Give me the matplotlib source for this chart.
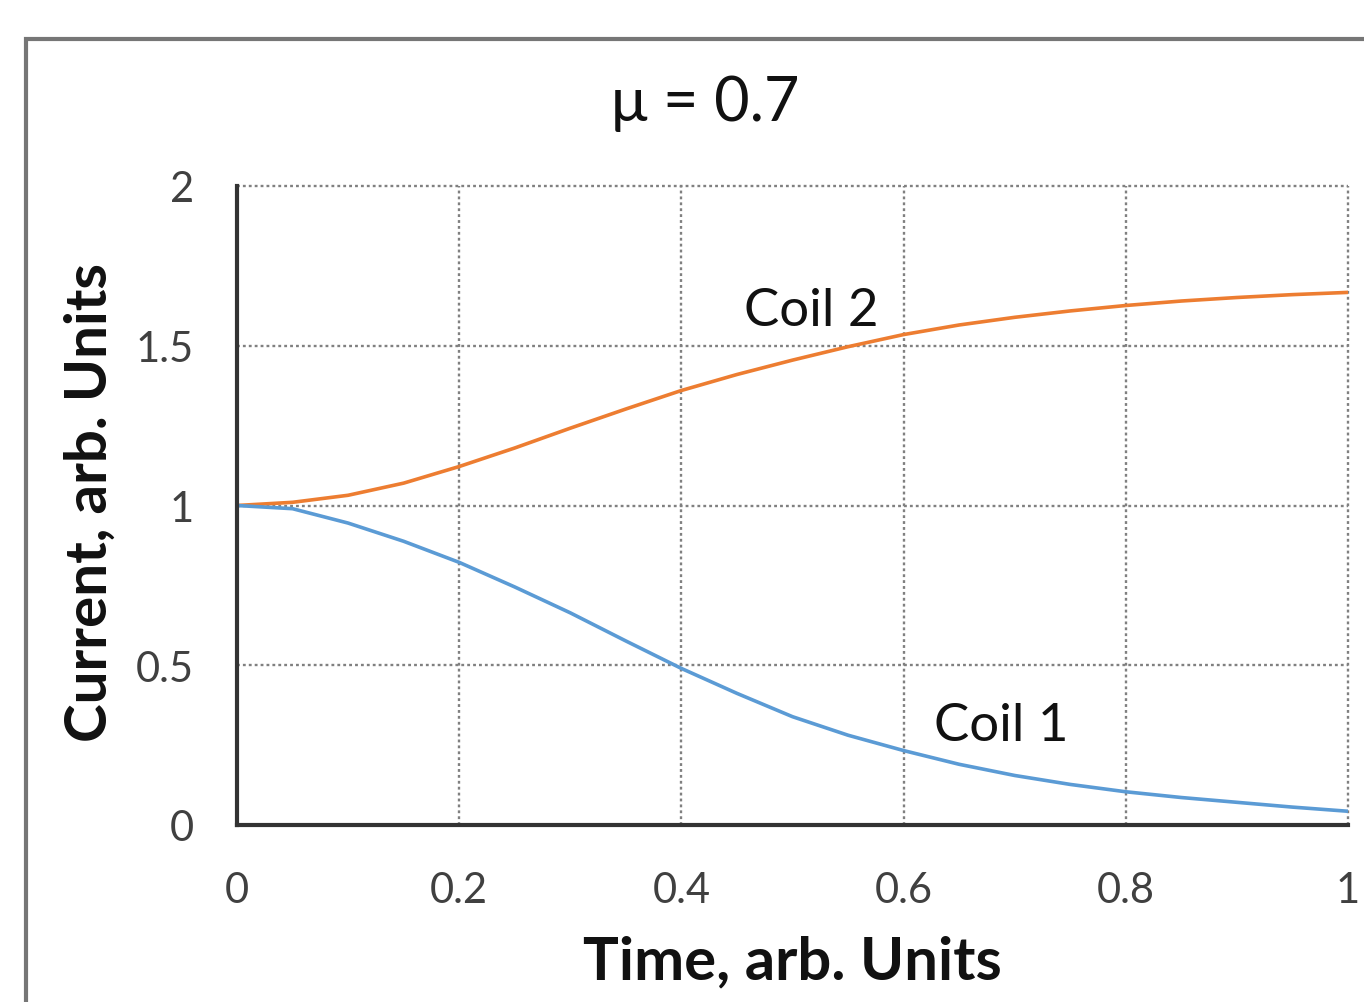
import matplotlib.pyplot as plt
from matplotlib.patches import Rectangle

# values
time = [0.0, 0.05, 0.1, 0.15, 0.2, 0.25, 0.3, 0.35, 0.4, 0.45, 0.5,
        0.55, 0.6, 0.65, 0.7, 0.75, 0.8, 0.85, 0.9, 0.95, 1.0]
coil_1 = [1.0, 0.99, 0.945, 0.888, 0.822, 0.745, 0.664, 0.576, 0.49, 0.412, 0.339,
          0.281, 0.233, 0.19, 0.155, 0.127, 0.104, 0.086, 0.071, 0.056, 0.043]
coil_2 = [1.0, 1.01, 1.032, 1.07, 1.122, 1.18, 1.242, 1.302, 1.36, 1.41, 1.455,
          1.497, 1.535, 1.565, 1.589, 1.609, 1.626, 1.64, 1.651, 1.66, 1.667]
x_ticks = [0, 0.2, 0.4, 0.6, 0.8, 1]
x_tick_labels = ["0", "0.2", "0.4", "0.6", "0.8", "1"]
y_ticks = [0, 0.5, 1, 1.5, 2]
y_tick_labels = ["0", "0.5", "1", "1.5", "2"]

plt.rcParams["font.family"] = ["Lato", "DejaVu Sans"]

fig = plt.figure(figsize=(13.64, 10.03), dpi=100)
W, H = 1364, 1003

# outer frame of the original chart (runs off the right and bottom edges)
fig.patches.append(Rectangle((25.5 / W, -0.1), 1.2, 1 - 39.5 / H + 0.1,
                             transform=fig.transFigure, fill=False,
                             edgecolor="#767676", linewidth=3))

ax = fig.add_axes([237 / W, 1 - 826 / H, (1348 - 237) / W, (826 - 187) / H])

ax.plot(time, coil_2, color="#ED7D31", linewidth=2.6, solid_capstyle="butt")
ax.plot(time, coil_1, color="#5B9BD5", linewidth=2.6, solid_capstyle="butt")

ax.set_xlim(0, 1)
ax.set_ylim(0, 2)
ax.set_xticks(x_ticks)
ax.set_xticklabels(x_tick_labels)
ax.set_yticks(y_ticks)
ax.set_yticklabels(y_tick_labels)
ax.tick_params(length=0, labelsize=30, colors="#404040")
ax.tick_params(axis="x", pad=33)
ax.tick_params(axis="y", pad=31)

ax.grid(True, color="#808080", linewidth=1.7, linestyle=(0, (1.2, 1.3)))
for line in ax.get_xgridlines() + ax.get_ygridlines():
    line.set_clip_on(False)
ax.set_axisbelow(True)

for side in ("top", "right"):
    ax.spines[side].set_visible(False)
for side in ("left", "bottom"):
    ax.spines[side].set_color("#333333")
    ax.spines[side].set_linewidth(3)
    ax.spines[side].set_zorder(5)

ax.text(0.517, 1.61, "Coil 2", fontsize=38, color="#111111", ha="center", va="center")
ax.text(0.688, 0.31, "Coil 1", fontsize=38, color="#111111", ha="center", va="center")

fig.text(705 / W, 1 - 103 / H, "\u03bc = 0.7", fontsize=44, color="#111111",
         ha="center", va="center")
fig.text(792 / W, 1 - 962 / H, "Time, arb. Units", fontsize=43, fontweight="bold",
         color="#111111", ha="center", va="center")
fig.text(90 / W, 1 - 503 / H, "Current, arb. Units", fontsize=42, fontweight="bold",
         color="#111111", ha="center", va="center", rotation=90)

fig.savefig("out.png", dpi=100, facecolor="white")
